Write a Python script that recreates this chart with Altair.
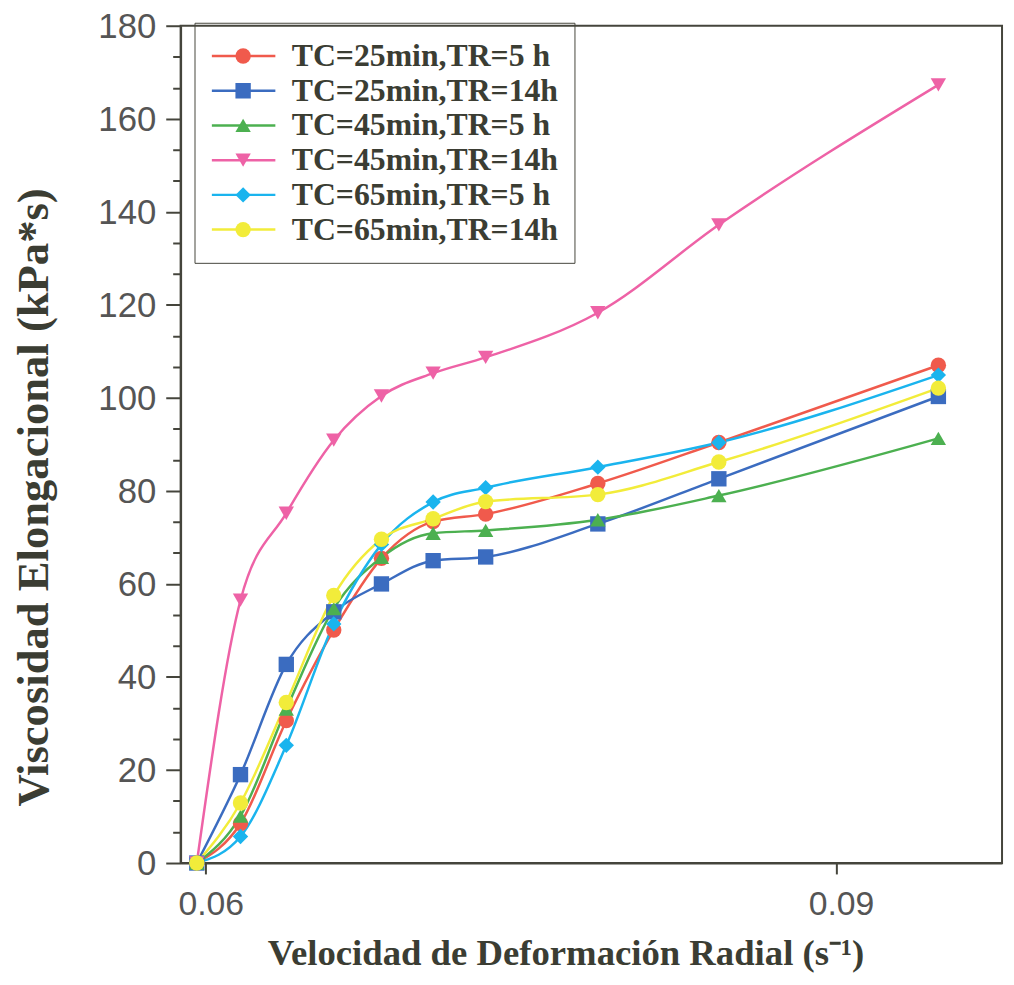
import altair as alt
import pandas as pd

# ---------------- data ----------------
x_vals = [0.05957, 0.06165, 0.06383, 0.06609, 0.06836, 0.07082, 0.07332, 0.07866, 0.08442, 0.09487]

series_names = [
    "TC=25min,TR=5 h",
    "TC=25min,TR=14h",
    "TC=45min,TR=5 h",
    "TC=45min,TR=14h",
    "TC=65min,TR=5 h",
    "TC=65min,TR=14h",
]

tc25_tr5 = [0, 8.5, 30.6, 50.1, 65.5, 73.4, 75.0, 81.6, 90.4, 107.0]
tc25_tr14 = [0, 19.0, 42.7, 54.0, 60.0, 65.0, 65.8, 72.9, 82.6, 100.3]
tc45_tr5 = [0, 10.1, 33.1, 54.7, 65.7, 70.9, 71.5, 73.8, 79.0, 91.3]
tc45_tr14 = [0, 56.5, 75.2, 90.9, 100.4, 105.3, 108.7, 118.3, 137.2, 167.3]
tc65_tr5 = [0, 5.7, 25.3, 51.4, 68.5, 77.6, 80.7, 85.1, 90.4, 104.9]
tc65_tr14 = [0, 12.9, 34.5, 57.5, 69.6, 74.0, 77.7, 79.2, 86.2, 102.1]

series_values = [tc25_tr5, tc25_tr14, tc45_tr5, tc45_tr14, tc65_tr5, tc65_tr14]

colors = ["#f05a4c", "#3b6cc0", "#4cb050", "#ee62a6", "#1ab4ee", "#f2ec3a"]
shapes = ["circle", "square", "triangle-up", "triangle-down", "diamond", "circle"]

x_ticks = [0.06, 0.09]
y_major = [0, 20, 40, 60, 80, 100, 120, 140, 160, 180]
# two minor ticks between each pair of labelled ticks
y_minor = [a + (b - a) * k / 3 for a, b in zip(y_major[:-1], y_major[1:]) for k in (1, 2)]

x_title = "Velocidad de Deformación Radial (s⁻¹)"
y_title = "Viscosidad Elongacional (kPa*s)"

rows = []
for name, vals in zip(series_names, series_values):
    for xv, yv in zip(x_vals, vals):
        rows.append({"serie": name, "serie_l": name, "x": xv, "y": yv})
df = pd.DataFrame(rows)

# ---------------- styles ----------------
AXIS_COL = "#45453c"
TEXT_COL = "#3b3d33"
LABEL_COL = "#555555"
SERIF = "Liberation Serif"
SANS = "Liberation Sans"

x_enc = alt.X(
    "x:Q",
    scale=alt.Scale(domain=[0.0588, 0.0979], nice=False, zero=False),
    axis=alt.Axis(
        values=x_ticks,
        format=".2f",
        grid=False,
        tickSize=11,
        tickWidth=2,
        tickColor=AXIS_COL,
        domainColor=AXIS_COL,
        domainWidth=2,
        labelFont=SANS,
        labelFontSize=34,
        labelColor=LABEL_COL,
        labelPadding=14,
        labelOffset=5,
        title=x_title,
        titleFont=SERIF,
        titleFontWeight="bold",
        titleFontSize=37,
        titleColor=TEXT_COL,
        titlePadding=14,
        titleX=388,
    ),
)

y_scale = alt.Scale(domain=[0, 180], nice=False)

y_major_axis = alt.Axis(
    orient="left",
    values=y_major,
    format="d",
    grid=False,
    tickSize=15,
    tickWidth=2,
    tickColor=AXIS_COL,
    domainColor=AXIS_COL,
    domainWidth=2,
    labelOverlap=False,
    labelFlush=False,
    labelBound=False,
    labelFont=SANS,
    labelFontSize=35,
    labelColor=LABEL_COL,
    labelPadding=10,
    labelOffset=1,
    title=y_title,
    titleFont=SERIF,
    titleFontWeight="bold",
    titleFontSize=45,
    titleColor=TEXT_COL,
    titleX=-125,
    titleY=475,
)

y_minor_axis = alt.Axis(
    orient="left",
    values=y_minor,
    grid=False,
    labels=False,
    domain=False,
    tickSize=8,
    tickWidth=2,
    tickColor=AXIS_COL,
    title=None,
)

legend_common = dict(
    orient="none",
    legendX=14,
    legendY=-3,
    title=None,
    clipHeight=35,
    rowPadding=0,
    padding=16,
    labelFont=SERIF,
    labelFontWeight="bold",
    labelFontSize=32,
    labelColor=TEXT_COL,
    labelLimit=500,
)

line_legend = alt.Legend(
    symbolType="stroke",
    symbolSize=4096,
    symbolStrokeWidth=2.5,
    labelExpr="''",
    zindex=0,
    **legend_common,
)

point_legend = alt.Legend(
    strokeColor=AXIS_COL,
    symbolSize=240,
    symbolStrokeWidth=0,
    symbolOffset=17,
    labelOffset=33,
    zindex=1,
    **legend_common,
)

lines = alt.Chart(df).mark_line(interpolate="monotone", strokeWidth=2.5).encode(
    x=x_enc,
    y=alt.Y("y:Q", scale=y_scale, axis=y_major_axis),
    stroke=alt.Stroke(
        "serie_l:N", sort=series_names, scale=alt.Scale(range=colors), legend=line_legend
    ),
    order=alt.Order("x:Q"),
)

points = alt.Chart(df).mark_point(filled=True, size=240, opacity=1, strokeWidth=0).encode(
    x=alt.X("x:Q"),
    y=alt.Y("y:Q", axis=y_minor_axis),
    color=alt.Color(
        "serie:N", scale=alt.Scale(domain=series_names, range=colors), legend=point_legend
    ),
    shape=alt.Shape(
        "serie:N", scale=alt.Scale(domain=series_names, range=shapes), legend=point_legend
    ),
)

chart = (
    alt.layer(lines, points)
    .resolve_axis(y="independent")
    .properties(
        width=828,
        height=844,
        autosize=alt.AutoSizeParams(type="none"),
        padding={"left": 174, "top": 14, "right": 4, "bottom": 109},
        background="white",
    )
    .configure_view(stroke=AXIS_COL, strokeWidth=2)
)

chart.save("out.html", embed_options={"renderer": "svg", "actions": False})
